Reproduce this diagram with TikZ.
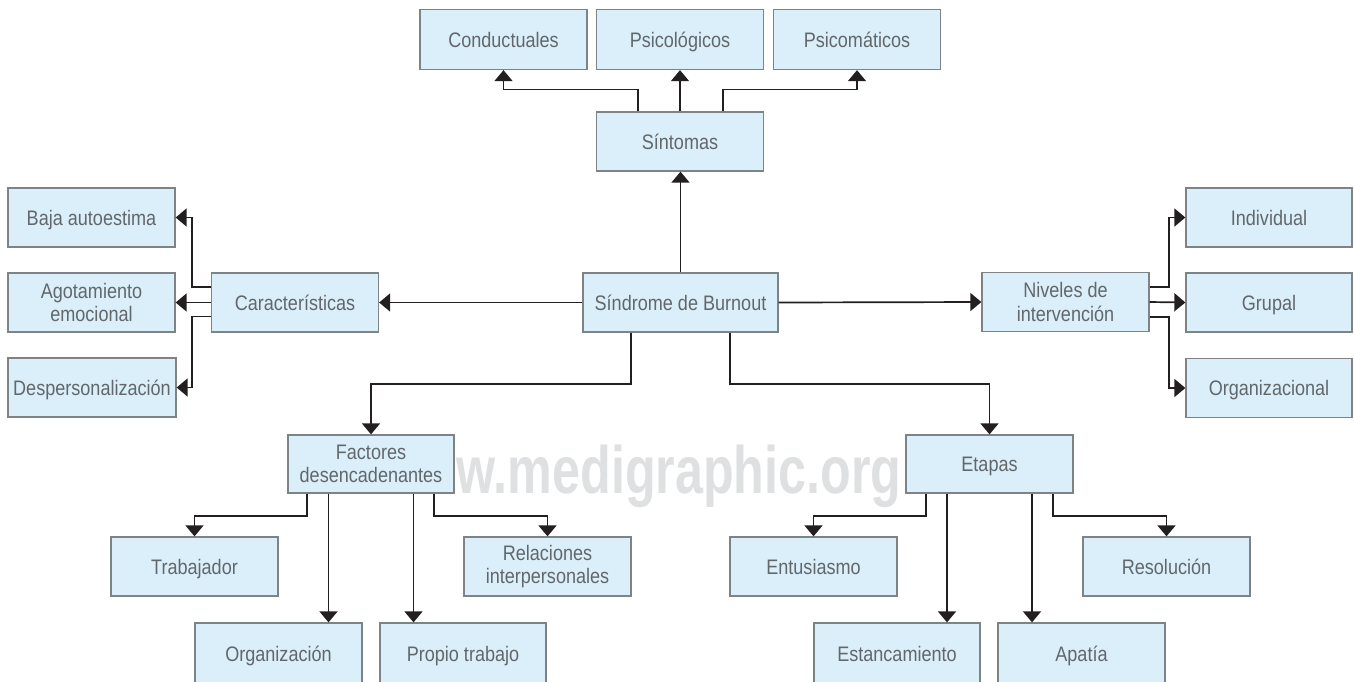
\documentclass[tikz,border=0pt]{standalone}
\usepackage{fontspec}
\setmainfont{Liberation Sans}[FakeStretch=0.86]
\newfontfamily\wmfont{Liberation Sans}[FakeStretch=0.75]
\usetikzlibrary{arrows.meta,calc}
\definecolor{boxfill}{HTML}{DBEFFA}
\definecolor{boxdraw}{HTML}{7E8386}
\definecolor{boxtext}{HTML}{62676B}
\definecolor{linecol}{HTML}{231F20}
\definecolor{wmcol}{HTML}{DFE0E1}
\tikzset{
  box/.style={draw=boxdraw, line width=1.3pt, fill=boxfill, text=boxtext,
    minimum width=167pt, minimum height=59pt, align=center, inner sep=0pt,
    font=\fontsize{21}{23.5}\selectfont},
  one/.style={text height=15pt, text depth=0pt},
  arr/.style={draw=linecol, line width=1.7pt, -{Triangle[width=18pt,length=11pt]}},
}
\begin{document}
\begin{tikzpicture}[x=1pt,y=-1pt]
\useasboundingbox (0,0) rectangle (1354,681);
\clip (0,0) rectangle (1354,681);
\fill[white] (0,0) rectangle (1354,681);
% watermark
\node[text=wmcol, font=\wmfont\fontsize{67}{67}\bfseries, anchor=base, inner sep=0pt] (wm) at (679,493) {w.medigraphic.org};
% boxes
\node[box, one, minimum height=60pt] (cond) at (503.5,39.5) {Conductuales};
\node[box, one, minimum height=60pt] (psic) at (680,39.5) {Psicológicos};
\node[box, one, minimum height=60pt] (psom) at (857,39.5) {Psicomáticos};
\node[box, one] (sint) at (680,141.5) {Síntomas};
\node[box, one, minimum width=195pt] (burn) at (680.5,302.5) {Síndrome de Burnout};
\node[box, one] (carac) at (295,302.5) {Características};
\node[box, one] (baja) at (91.5,217.5) {Baja autoestima};
\node[box] (agot) at (91.5,302.5) {Agotamiento\\emocional};
\node[box, one, minimum width=168pt] (desp) at (92,387.5) {Despersonalización};
\node[box] (niv) at (1065.5,302) {Niveles de\\intervención};
\node[box, one, minimum width=166pt] (indiv) at (1269,217.5) {Individual};
\node[box, one, minimum width=166pt] (grup) at (1269,302.5) {Grupal};
\node[box, one, minimum width=166pt] (org) at (1269,388) {Organizacional};
\node[box, minimum width=166pt, minimum height=58pt] (fact) at (371,464) {Factores\\desencadenantes};
\node[box, one] (trab) at (194.5,566.5) {Trabajador};
\node[box] (rel) at (547.5,566.5) {Relaciones\\interpersonales};
\node[box, one, minimum height=62pt] (orgz) at (278.5,654) {Organización};
\node[box, one, minimum width=166pt, minimum height=62pt] (prop) at (463,654) {Propio trabajo};
\node[box, one, minimum height=58pt] (etap) at (989.5,464) {Etapas};
\node[box, one] (entu) at (813.5,566.5) {Entusiasmo};
\node[box, one] (reso) at (1166.5,566.5) {Resolución};
\node[box, one, minimum width=166pt, minimum height=62pt] (estan) at (897,654) {Estancamiento};
\node[box, one, minimum height=62pt] (apat) at (1081.5,654) {Apatía};
% connectors: sintomas
\draw[arr] (burn.north) -- (burn.north |- sint.south);
\draw[arr] ([xshift=-42pt]sint.north) -- ++(0,-22) -| (cond.south);
\draw[arr] (sint.north) -- (psic.south);
\draw[arr] ([xshift=43pt]sint.north) -- ++(0,-22) -| (psom.south);
% caracteristicas
\draw[arr] (burn.west) -- (carac.east);
\draw[arr] ([yshift=15.5pt]carac.west) -- ++(-19,0) |- (baja.east);
\draw[arr] (carac.west) -- (agot.east);
\draw[arr] ([yshift=-14pt]carac.west) -- ++(-19,0) |- (desp.east);
% niveles
\draw[arr] (burn.east) -- (niv.west);
\draw[arr] ([yshift=15pt]niv.east) -- ++(19,0) |- (indiv.west);
\draw[arr] (niv.east) -- (grup.west);
\draw[arr] ([yshift=-15pt]niv.east) -- ++(19,0) |- (org.west);
% bottom branches
\draw[arr] ([xshift=-49.5pt]burn.south) -- ++(0,51) -| (fact.north);
\draw[arr] ([xshift=49.5pt]burn.south) -- ++(0,51) -| (etap.north);
% factores
\draw[arr] ([xshift=-64pt]fact.south) -- ++(0,22.5) -| (trab.north);
\draw[arr] ([xshift=-42.5pt]fact.south) -- ([xshift=-42.5pt]fact.south |- orgz.north);
\draw[arr] ([xshift=42.5pt]fact.south) -- ([xshift=42.5pt]fact.south |- prop.north);
\draw[arr] ([xshift=63pt]fact.south) -- ++(0,22.5) -| (rel.north);
% etapas
\draw[arr] ([xshift=-63.5pt]etap.south) -- ++(0,22.5) -| (entu.north);
\draw[arr] ([xshift=-42.5pt]etap.south) -- ([xshift=-42.5pt]etap.south |- estan.north);
\draw[arr] ([xshift=42.5pt]etap.south) -- ([xshift=42.5pt]etap.south |- apat.north);
\draw[arr] ([xshift=63.5pt]etap.south) -- ++(0,22.5) -| (reso.north);
\end{tikzpicture}
\end{document}
